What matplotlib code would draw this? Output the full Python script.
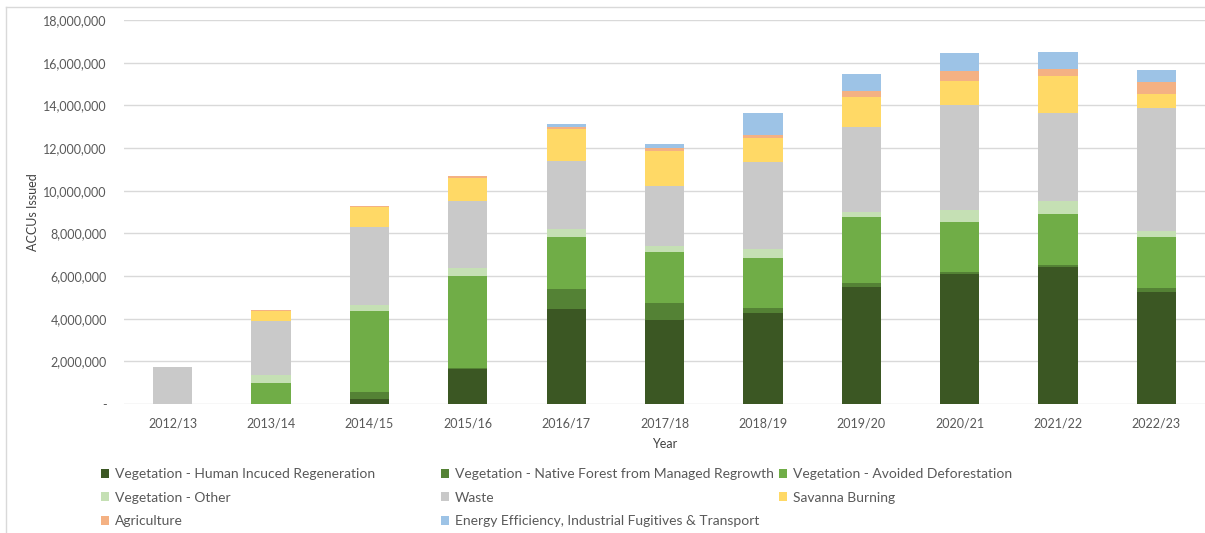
import matplotlib
matplotlib.use("Agg")
import matplotlib.pyplot as plt
from matplotlib.patches import Patch
from matplotlib.lines import Line2D
from matplotlib.ticker import FuncFormatter

plt.rcParams['font.family'] = ['Lato', 'DejaVu Sans']

years = ['2012/13', '2013/14', '2014/15', '2015/16', '2016/17', '2017/18',
         '2018/19', '2019/20', '2020/21', '2021/22', '2022/23']

# ACCUs issued per method type
human_induced = [0, 0, 220000, 1640000, 4440000, 3950000, 4250000, 5500000, 6080000, 6410000, 5250000]
native_forest = [0, 0, 330000, 50000, 970000, 800000, 250000, 190000, 110000, 110000, 190000]
avoided_defor = [0, 1000000, 3810000, 4300000, 2430000, 2360000, 2360000, 3090000, 2330000, 2400000, 2370000]
veg_other = [0, 360000, 300000, 400000, 380000, 310000, 410000, 240000, 570000, 610000, 280000]
waste = [1720000, 2540000, 3640000, 3110000, 3160000, 2810000, 4070000, 3950000, 4910000, 4100000, 5770000]
savanna = [0, 460000, 920000, 1110000, 1530000, 1640000, 1130000, 1440000, 1160000, 1750000, 670000]
agriculture = [30000, 40000, 80000, 90000, 90000, 110000, 120000, 260000, 430000, 320000, 550000]
energy = [0, 0, 0, 0, 130000, 220000, 1040000, 780000, 850000, 790000, 590000]

series = [
    ('Vegetation - Human Incuced Regeneration', human_induced, '#3b5723'),
    ('Vegetation - Native Forest from Managed Regrowth', native_forest, '#548235'),
    ('Vegetation - Avoided Deforestation', avoided_defor, '#70ad47'),
    ('Vegetation - Other', veg_other, '#c5e0b4'),
    ('Waste', waste, '#c9c9c9'),
    ('Savanna Burning', savanna, '#ffd966'),
    ('Agriculture', agriculture, '#f4b183'),
    ('Energy Efficiency, Industrial Fugitives & Transport', energy, '#9dc3e6'),
]

fig = plt.figure(figsize=(12.05, 5.33), dpi=100)
ax = fig.add_axes([0.1025, 0.242, 0.898, 0.7205])

x = range(len(years))
bottom = [0] * len(years)
for label, vals, color in series:
    ax.bar(x, vals, width=0.4, bottom=bottom, color=color, label=label, zorder=3)
    bottom = [b + v for b, v in zip(bottom, vals)]

ax.set_ylim(0, 18000000)
ax.set_xlim(-0.5, len(years) - 0.5)
ax.set_yticks(range(0, 18000001, 2000000))
ax.yaxis.set_major_formatter(FuncFormatter(lambda v, p: '-' if v == 0 else f'{v:,.0f}'))
ax.set_xticks(list(x))
ax.set_xticklabels(years)
ax.tick_params(axis='both', length=0, colors='#595959', labelsize=9)
ax.tick_params(axis='y', pad=12)
ax.tick_params(axis='x', pad=10)
ax.grid(axis='y', color='#d9d9d9', linewidth=1, zorder=0)
for s in ax.spines.values():
    s.set_visible(False)

ax.set_ylabel('ACCUs Issued', fontsize=9, color='#404040', labelpad=3)
ax.set_xlabel('Year', fontsize=9, color='#404040', labelpad=6)

# chart area border (top and left visible)
fig.add_artist(Line2D([6 / 1205, 1], [1 - 7 / 533, 1 - 7 / 533], transform=fig.transFigure, color='#d9d9d9', lw=1))
fig.add_artist(Line2D([6 / 1205, 6 / 1205], [0, 1 - 7 / 533], transform=fig.transFigure, color='#d9d9d9', lw=1))

# legend laid out in three columns, Excel style (row-major order)
cols = [[0, 3, 6], [1, 4, 7], [2, 5]]
col_x = [101, 441, 779]
for ci, idx in enumerate(cols):
    handles = [Patch(facecolor=series[i][2], edgecolor='none') for i in idx]
    labels = [series[i][0] for i in idx]
    leg = fig.legend(handles, labels, loc='upper left',
                     bbox_to_anchor=(col_x[ci] / 1205, 1 - 468 / 533),
                     frameon=False, fontsize=10, handlelength=0.6, handleheight=0.6,
                     handletextpad=0.4, labelspacing=0.83, borderaxespad=0, borderpad=0)
    for t in leg.get_texts():
        t.set_color('#595959')

fig.savefig('out.png', dpi=100)
